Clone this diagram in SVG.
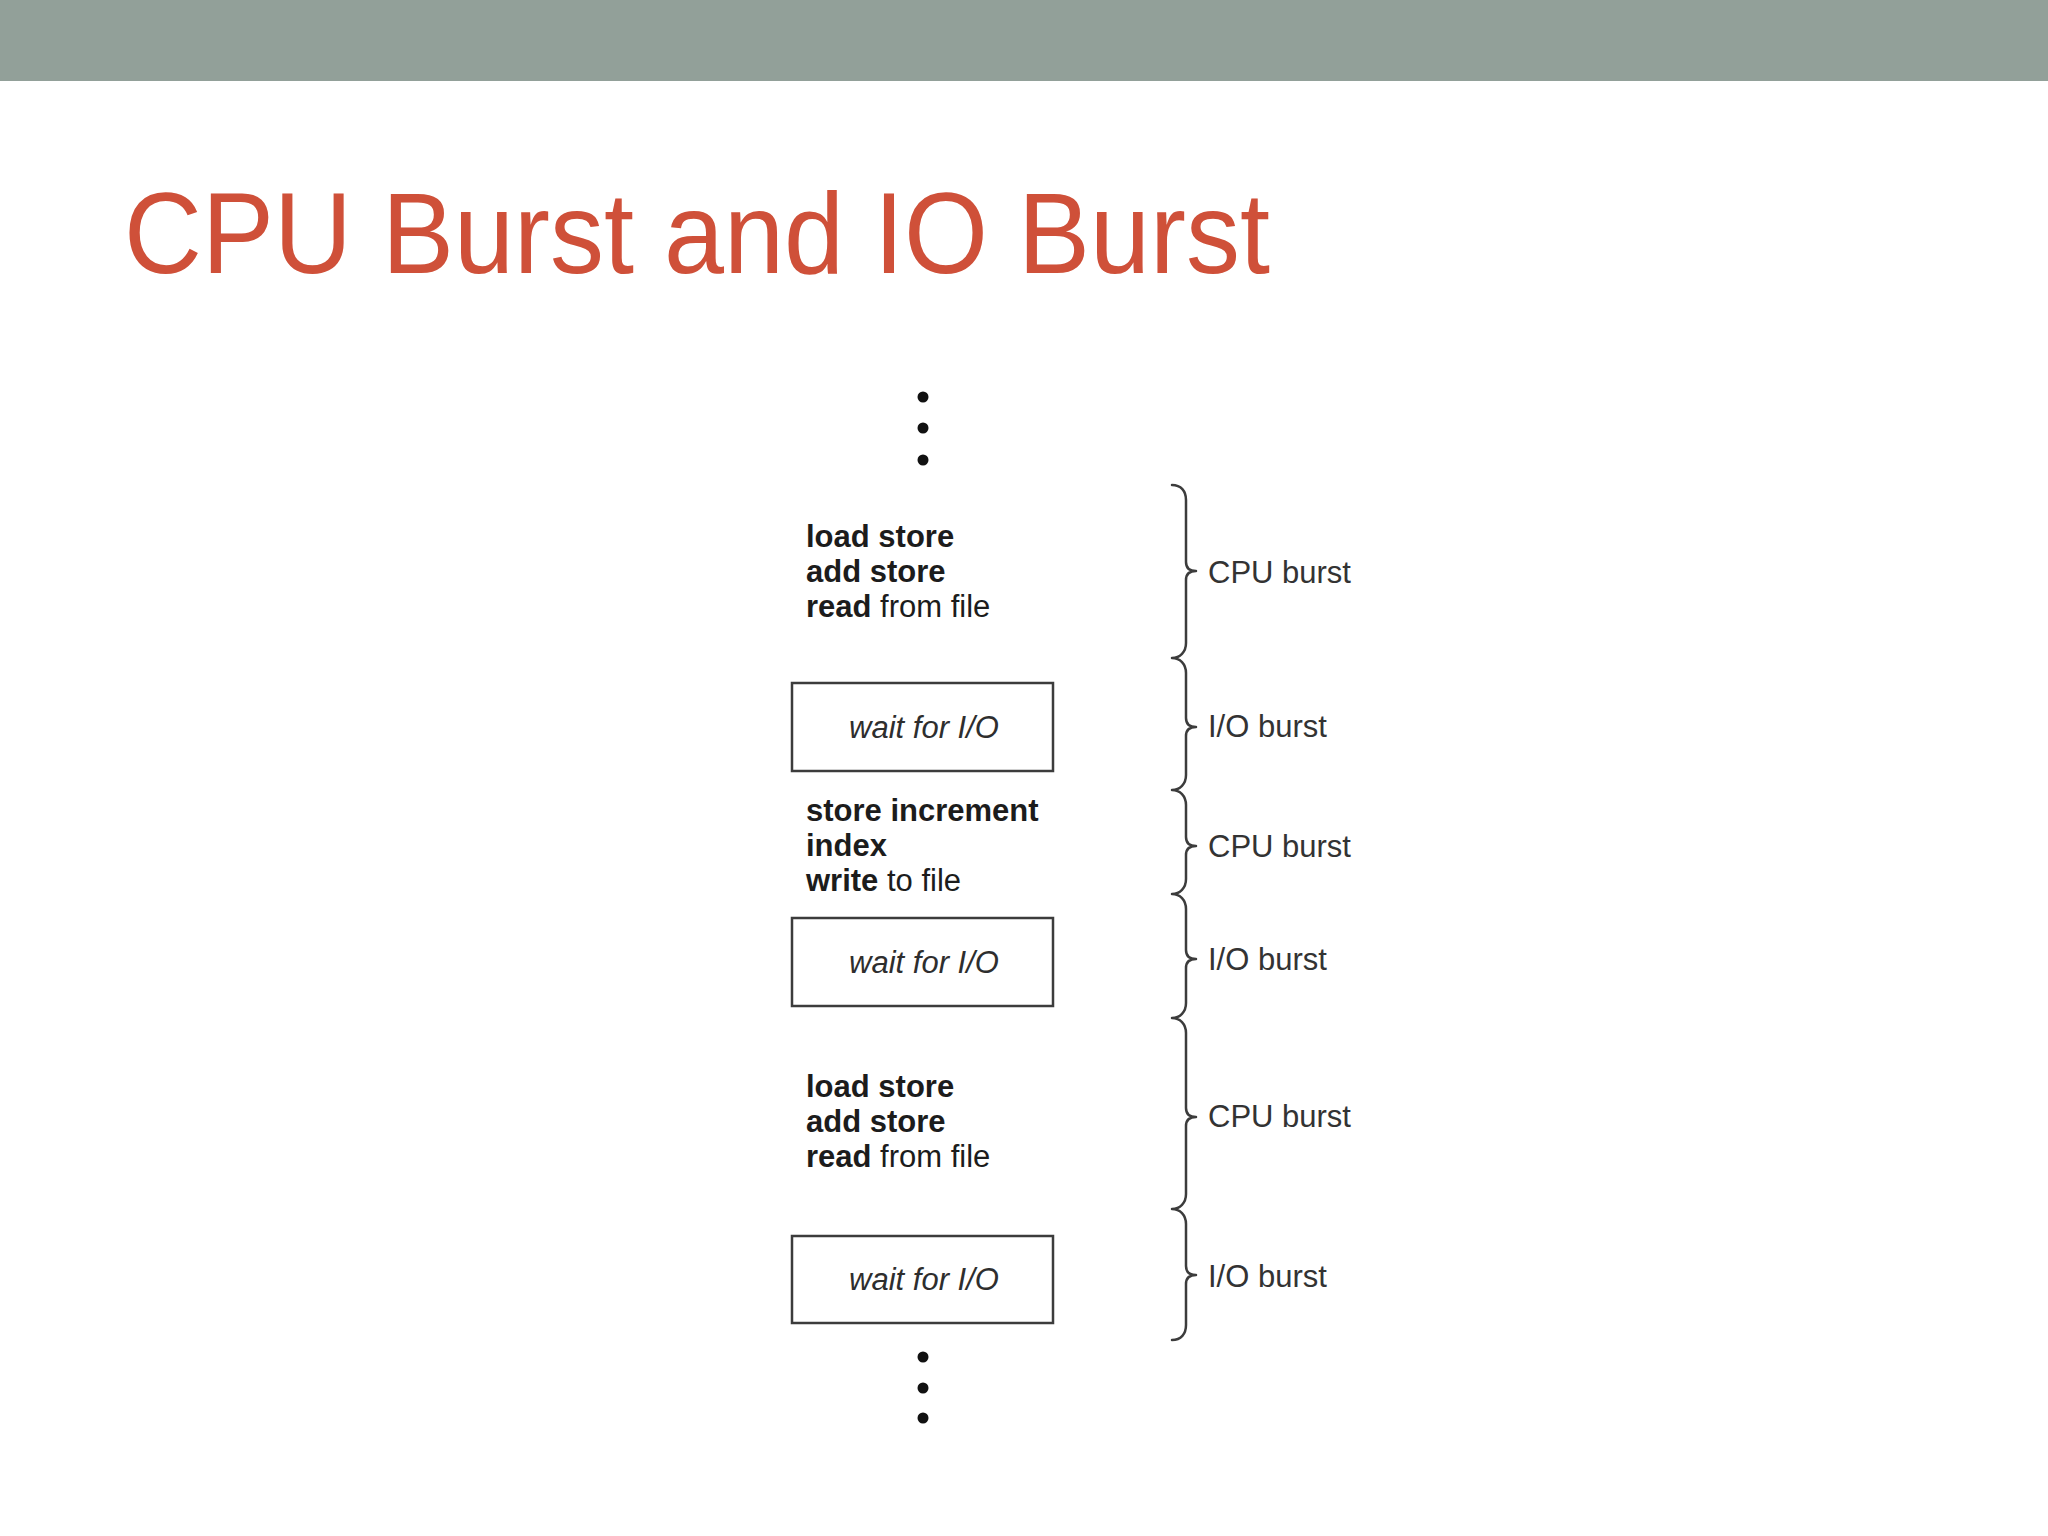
<svg xmlns="http://www.w3.org/2000/svg" width="2048" height="1536" viewBox="0 0 2048 1536">
  <style>
    .code { font-family: "Liberation Sans", Arial, sans-serif; font-size: 31px; fill: #1c1c1c; }
    .b { font-weight: bold; }
    .wait { font-family: "Liberation Sans", Arial, sans-serif; font-size: 31px; font-style: italic; fill: #2e2e2e; text-anchor: middle; }
    .lbl { font-family: "Liberation Sans", Arial, sans-serif; font-size: 31px; fill: #333333; }
    .box { fill: #ffffff; stroke: #3c3c3c; stroke-width: 2.5; }
    .brace { fill: none; stroke: #3c3c3c; stroke-width: 2.5; stroke-linejoin: round; stroke-linecap: round; }
    .dot { fill: #111111; }
  </style>
  <rect width="2048" height="1536" fill="#ffffff"/>
  <g id="header">
    <rect x="0" y="0" width="2048" height="81" fill="#92A099"/>
  </g>
  <g id="title">
    <text x="124" y="273" font-family="Liberation Sans, Arial, sans-serif" font-size="115" fill="#CF5039" textLength="1146" lengthAdjust="spacingAndGlyphs">CPU Burst and IO Burst</text>
  </g>
  <g id="dots-top">
    <circle class="dot" cx="923" cy="397" r="5.5"/>
    <circle class="dot" cx="923" cy="428" r="5.5"/>
    <circle class="dot" cx="923" cy="460" r="5.5"/>
  </g>
  <g id="cpu-block-1">
    <text class="code" x="806" y="547"><tspan class="b">load store</tspan></text>
    <text class="code" x="806" y="582"><tspan class="b">add store</tspan></text>
    <text class="code" x="806" y="617"><tspan class="b">read</tspan> from file</text>
  </g>
  <g id="io-box-1">
    <rect class="box" x="792" y="683" width="261" height="88"/>
    <text class="wait" x="924" y="738">wait for I/O</text>
  </g>
  <g id="cpu-block-2">
    <text class="code" x="806" y="821"><tspan class="b">store increment</tspan></text>
    <text class="code" x="806" y="856"><tspan class="b">index</tspan></text>
    <text class="code" x="806" y="891"><tspan class="b">write</tspan> to file</text>
  </g>
  <g id="io-box-2">
    <rect class="box" x="792" y="918" width="261" height="88"/>
    <text class="wait" x="924" y="973">wait for I/O</text>
  </g>
  <g id="cpu-block-3">
    <text class="code" x="806" y="1097"><tspan class="b">load store</tspan></text>
    <text class="code" x="806" y="1132"><tspan class="b">add store</tspan></text>
    <text class="code" x="806" y="1167"><tspan class="b">read</tspan> from file</text>
  </g>
  <g id="io-box-3">
    <rect class="box" x="792" y="1236" width="261" height="87"/>
    <text class="wait" x="924" y="1290">wait for I/O</text>
  </g>
  <g id="dots-bottom">
    <circle class="dot" cx="923" cy="1357" r="5.5"/>
    <circle class="dot" cx="923" cy="1388" r="5.5"/>
    <circle class="dot" cx="923" cy="1418" r="5.5"/>
  </g>
  <g id="connectors">
    <path class="brace" d="M 1172 485 C 1181 485 1186 491 1186 500
      L 1186 562 C 1186 568 1190 571 1196 571 C 1190 571 1186 574 1186 580
      L 1186 643 C 1186 652 1180 658 1172 658 C 1180 658 1186 664 1186 673
      L 1186 718 C 1186 724 1190 727 1196 727 C 1190 727 1186 730 1186 736
      L 1186 775 C 1186 784 1180 790 1172 790 C 1180 790 1186 796 1186 805
      L 1186 837 C 1186 843 1190 846 1196 846 C 1190 846 1186 849 1186 855
      L 1186 879 C 1186 888 1180 894 1172 894 C 1180 894 1186 900 1186 909
      L 1186 950 C 1186 956 1190 959 1196 959 C 1190 959 1186 962 1186 968
      L 1186 1003 C 1186 1012 1180 1018 1172 1018 C 1180 1018 1186 1024 1186 1033
      L 1186 1108 C 1186 1114 1190 1117 1196 1117 C 1190 1117 1186 1120 1186 1126
      L 1186 1194 C 1186 1203 1180 1209 1172 1209 C 1180 1209 1186 1215 1186 1224
      L 1186 1266 C 1186 1272 1190 1275 1196 1275 C 1190 1275 1186 1278 1186 1284
      L 1186 1325 C 1186 1334 1181 1340 1172 1340"/>
  </g>
  <g id="labels">
    <text class="lbl" x="1208" y="583">CPU burst</text>
    <text class="lbl" x="1208" y="737">I/O burst</text>
    <text class="lbl" x="1208" y="857">CPU burst</text>
    <text class="lbl" x="1208" y="970">I/O burst</text>
    <text class="lbl" x="1208" y="1127">CPU burst</text>
    <text class="lbl" x="1208" y="1287">I/O burst</text>
  </g>
</svg>
